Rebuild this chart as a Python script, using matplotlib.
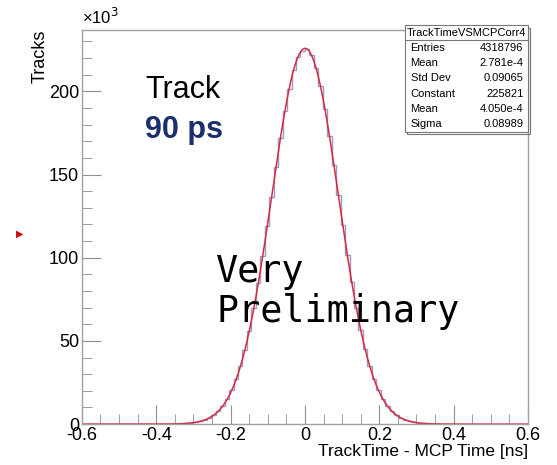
import numpy as np
import matplotlib
matplotlib.use("Agg")
import matplotlib.pyplot as plt
from matplotlib.ticker import MultipleLocator

plt.rcParams['font.family'] = ['Liberation Sans', 'DejaVu Sans']

# histogram contents (in thousands of tracks), bin width 0.012 ns, from -0.36 to 0.36 ns
bin_edges_lo = -0.36
bin_width = 0.012
counts_k = [0.12, 0.18, 0.30, 0.47, 0.74, 1.12, 1.70, 2.55, 3.75, 5.45,
            7.75, 10.9, 15.0, 20.3, 26.9, 34.9, 44.6, 56.2, 69.8, 84.7,
            101.2, 118.8, 136.5, 154.6, 171.8, 187.9, 201.6, 212.8, 220.5, 224.5,
            225.6, 222.0, 214.2, 203.0, 189.3, 173.2, 155.8, 137.5, 119.4, 101.8,
            85.2, 70.0, 56.6, 45.0, 35.1, 27.0, 20.4, 15.2, 11.1, 7.9,
            5.6, 3.85, 2.62, 1.75, 1.15, 0.75, 0.48, 0.30, 0.19, 0.12]

# fit results shown in the stats box
fit_constant = 225821
fit_mean = 4.050e-4
fit_sigma = 0.08989

stat_names = ["Entries", "Mean", "Std Dev", "Constant", "Mean", "Sigma"]
stat_values = ["4318796", "2.781e-4", "0.09065", "225821", "4.050e-4", "0.08989"]

edges = bin_edges_lo + bin_width * np.arange(len(counts_k) + 1)

fig = plt.figure(figsize=(5.57, 4.65), dpi=100)
ax = fig.add_axes([0.147, 0.088, 0.801, 0.848])

ax.stairs(counts_k, edges, color="#9a9ac8", lw=1.0)
xf = np.linspace(-0.6, 0.6, 600)
yf = fit_constant * np.exp(-0.5 * ((xf - fit_mean) / fit_sigma) ** 2) / 1000.0
ax.plot(xf, yf, color="#d62a3c", lw=1.1)

ax.set_xlim(-0.6, 0.6)
ax.set_ylim(0, 237)
ax.xaxis.set_major_locator(MultipleLocator(0.2))
ax.xaxis.set_minor_locator(MultipleLocator(0.05))
ax.yaxis.set_major_locator(MultipleLocator(50))
ax.yaxis.set_minor_locator(MultipleLocator(10))
ax.tick_params(which="both", direction="in", color="#909090", labelsize=13,
               top=False, right=False, pad=2)
ax.tick_params(which="major", length=14)
ax.tick_params(which="minor", length=7)
ax.set_xticks([-0.6, -0.4, -0.2, 0, 0.2, 0.4, 0.6])
ax.set_xticklabels(["-0.6", "-0.4", "-0.2", "0", "0.2", "0.4", "0.6"])
for s in ax.spines.values():
    s.set_color("#a0a0a0")
    s.set_linewidth(1.0)

fig.text(0.147, 0.942, "×10$^3$", fontsize=12, ha="left", va="bottom")
fig.text(0.072, 0.936, "Tracks", rotation=90, fontsize=13, ha="center", va="top")
fig.text(0.948, 0.012, "TrackTime - MCP Time [ns]", fontsize=12.5, ha="right", va="bottom")

# labels inside the plot
fig.text(0.261, 0.789, "Track", fontsize=22, ha="left", va="baseline")
fig.text(0.261, 0.703, "90 ps", fontsize=22, fontweight="bold", color="#1b2f6e",
         ha="left", va="baseline")
fig.text(0.388, 0.393, "Very", fontsize=26.5, family="DejaVu Sans Mono",
         ha="left", va="baseline")
fig.text(0.388, 0.307, "Preliminary", fontsize=26.5, family="DejaVu Sans Mono",
         ha="left", va="baseline")

# red marker left of the axis
fig.text(0.036, 0.497, "▶", color="#cc1111", fontsize=7, ha="center", va="center",
         family="DejaVu Sans")

# stats box
bx0, bx1 = 0.727, 0.948
by1, by0 = 0.946, 0.717
fig.patches.append(plt.Rectangle((bx0 + 0.004, by0 - 0.006), bx1 - bx0, by1 - by0,
                                 transform=fig.transFigure, fc="none", ec="#777777", lw=0.8))
fig.patches.append(plt.Rectangle((bx0, by0), bx1 - bx0, by1 - by0,
                                 transform=fig.transFigure, fc="white", ec="#777777", lw=0.8))
row_h = (by1 - by0) / 7.0
fig.lines.append(plt.Line2D([bx0, bx1], [by1 - row_h, by1 - row_h],
                            transform=fig.transFigure, color="#777777", lw=0.8))
fig.text((bx0 + bx1) / 2, by1 - row_h / 2, "TrackTimeVSMCPCorr4", fontsize=8,
         ha="center", va="center")
for i, (n, v) in enumerate(zip(stat_names, stat_values)):
    yy = by1 - row_h * (i + 1.5)
    fig.text(bx0 + 0.01, yy, n, fontsize=8, ha="left", va="center")
    fig.text(bx1 - 0.008, yy, v, fontsize=8, ha="right", va="center")

fig.savefig("out.png", dpi=100)
